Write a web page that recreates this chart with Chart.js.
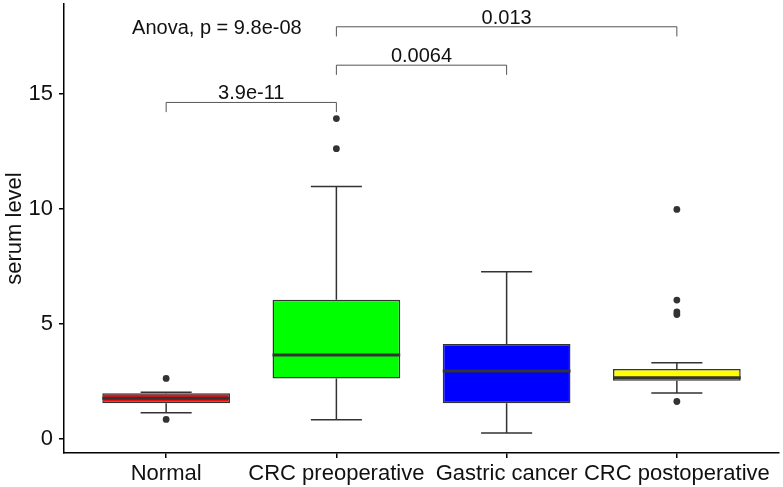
<!DOCTYPE html>
<html>
<head>
<meta charset="utf-8">
<script src="https://cdn.jsdelivr.net/npm/chart.js@4"></script>
<style>
  body { margin: 0; background: #fff; }
</style>
</head>
<body>
<canvas id="myChart" width="783" height="487"></canvas>
<script>
const categories = ['Normal', 'CRC preoperative', 'Gastric cancer', 'CRC postoperative'];
const whiskerLow = [1.15, 0.85, 0.27, 2.01];
const q1 = [1.56, 2.64, 1.56, 2.54];
const median = [1.78, 3.66, 2.97, 2.67];
const q3 = [2.00, 6.06, 4.14, 3.05];
const whiskerHigh = [2.04, 10.99, 7.28, 3.32];
const outliers = [
    [2.64, 0.86],
    [13.94, 12.63],
    [],
    [9.99, 6.05, 5.53, 5.42, 1.64]
];
const boxColors = ['#EE1111', '#00FF00', '#0000FF', '#FFFF00'];
const yTicks = [0, 5, 10, 15];

// pairwise comparisons (category index from / to, bracket height, p-value)
const bracketFrom = [0, 1, 1];
const bracketTo = [1, 2, 3];
const bracketY = [14.64, 16.26, 17.93];
const bracketLabels = ['3.9e-11', '0.0064', '0.013'];
const anovaLabel = 'Anova, p = 9.8e-08';

const FONT = '"Liberation Sans", Arial, sans-serif';
Chart.defaults.font.family = FONT;
Chart.defaults.color = '#111';

// whisker segments, separated by gaps
const whiskerPts = [];
const medianPts = [];
const gap = {x: NaN, y: null};
categories.forEach((c, i) => {
    whiskerPts.push({x: i, y: q3[i]}, {x: i, y: whiskerHigh[i]}, gap);
    whiskerPts.push({x: i, y: q1[i]}, {x: i, y: whiskerLow[i]}, gap);
    whiskerPts.push({x: i - 0.15, y: whiskerHigh[i]}, {x: i + 0.15, y: whiskerHigh[i]}, gap);
    whiskerPts.push({x: i - 0.15, y: whiskerLow[i]}, {x: i + 0.15, y: whiskerLow[i]}, gap);
    medianPts.push({x: i - 0.375, y: median[i]}, {x: i + 0.375, y: median[i]}, gap);
});
const outlierPts = [];
outliers.forEach((arr, i) => arr.forEach(v => outlierPts.push({x: i, y: v})));

const annotations = {
    id: 'annotations',
    afterDatasetsDraw(chart) {
        const {ctx, scales: {x, y}} = chart;
        ctx.save();
        ctx.strokeStyle = '#555';
        ctx.lineWidth = 1;
        ctx.fillStyle = '#111';
        ctx.font = '20px ' + FONT;
        ctx.textAlign = 'center';
        ctx.textBaseline = 'alphabetic';
        bracketLabels.forEach((lab, k) => {
            const x1 = x.getPixelForValue(bracketFrom[k]);
            const x2 = x.getPixelForValue(bracketTo[k]);
            const yt = y.getPixelForValue(bracketY[k]);
            const yb = y.getPixelForValue(bracketY[k] - 0.42);
            ctx.beginPath();
            ctx.moveTo(x1, yb);
            ctx.lineTo(x1, yt);
            ctx.lineTo(x2, yt);
            ctx.lineTo(x2, yb);
            ctx.stroke();
            ctx.fillText(lab, (x1 + x2) / 2, yt - 3);
        });
        ctx.textAlign = 'left';
        ctx.fillText(anovaLabel, x.getPixelForValue(-0.2), y.getPixelForValue(17.6));
        ctx.restore();
    }
};

new Chart(document.getElementById('myChart'), {
    type: 'bar',
    data: {
        datasets: [{
            type: 'line',
            data: whiskerPts,
            borderColor: '#333',
            borderWidth: 1.5,
            pointRadius: 0,
            spanGaps: false,
            order: 4
        }, {
            type: 'bar',
            data: categories.map((c, i) => ({x: i, y: [q1[i], q3[i]]})),
            backgroundColor: boxColors,
            borderColor: '#333',
            borderWidth: 1.5,
            borderSkipped: false,
            barPercentage: 0.75,
            categoryPercentage: 1,
            order: 3
        }, {
            type: 'line',
            data: medianPts,
            borderColor: '#333',
            borderWidth: 3,
            pointRadius: 0,
            spanGaps: false,
            order: 2
        }, {
            type: 'scatter',
            data: outlierPts,
            backgroundColor: '#333',
            borderColor: '#333',
            pointRadius: 3.4,
            borderWidth: 0,
            order: 1
        }]
    },
    options: {
        responsive: false,
        animation: false,
        devicePixelRatio: 1,
        layout: { padding: 0 },
        plugins: {
            legend: { display: false },
            tooltip: { enabled: false }
        },
        scales: {
            x: {
                type: 'linear',
                min: -0.6,
                max: 3.6,
                offset: false,
                afterBuildTicks: s => { s.ticks = categories.map((c, i) => ({value: i})); },
                afterFit: s => { s.height = 34; s.paddingLeft = 0; s.paddingRight = 0; },
                ticks: {
                    autoSkip: false,
                    maxRotation: 0,
                    padding: 3,
                    font: { size: 22 },
                    callback: v => categories[v]
                },
                grid: { drawOnChartArea: false, drawTicks: true, tickLength: 5, color: '#000', lineWidth: 1.5, offset: false },
                border: { display: true, color: '#000', width: 1.5 }
            },
            y: {
                min: -0.6,
                max: 18.92,
                afterBuildTicks: s => { s.ticks = yTicks.map(v => ({value: v})); },
                afterFit: s => { s.width = 64; s.paddingTop = 0; s.paddingBottom = 0; },
                ticks: {
                    padding: 6,
                    font: { size: 22 }
                },
                title: {
                    display: true,
                    text: 'serum level',
                    font: { size: 22 },
                    color: '#111',
                    padding: { top: 2, bottom: 0 }
                },
                grid: { drawOnChartArea: false, drawTicks: true, tickLength: 5, color: '#000', lineWidth: 1.5 },
                border: { display: true, color: '#000', width: 1.5 }
            }
        }
    },
    plugins: [annotations]
});
</script>
</body>
</html>
